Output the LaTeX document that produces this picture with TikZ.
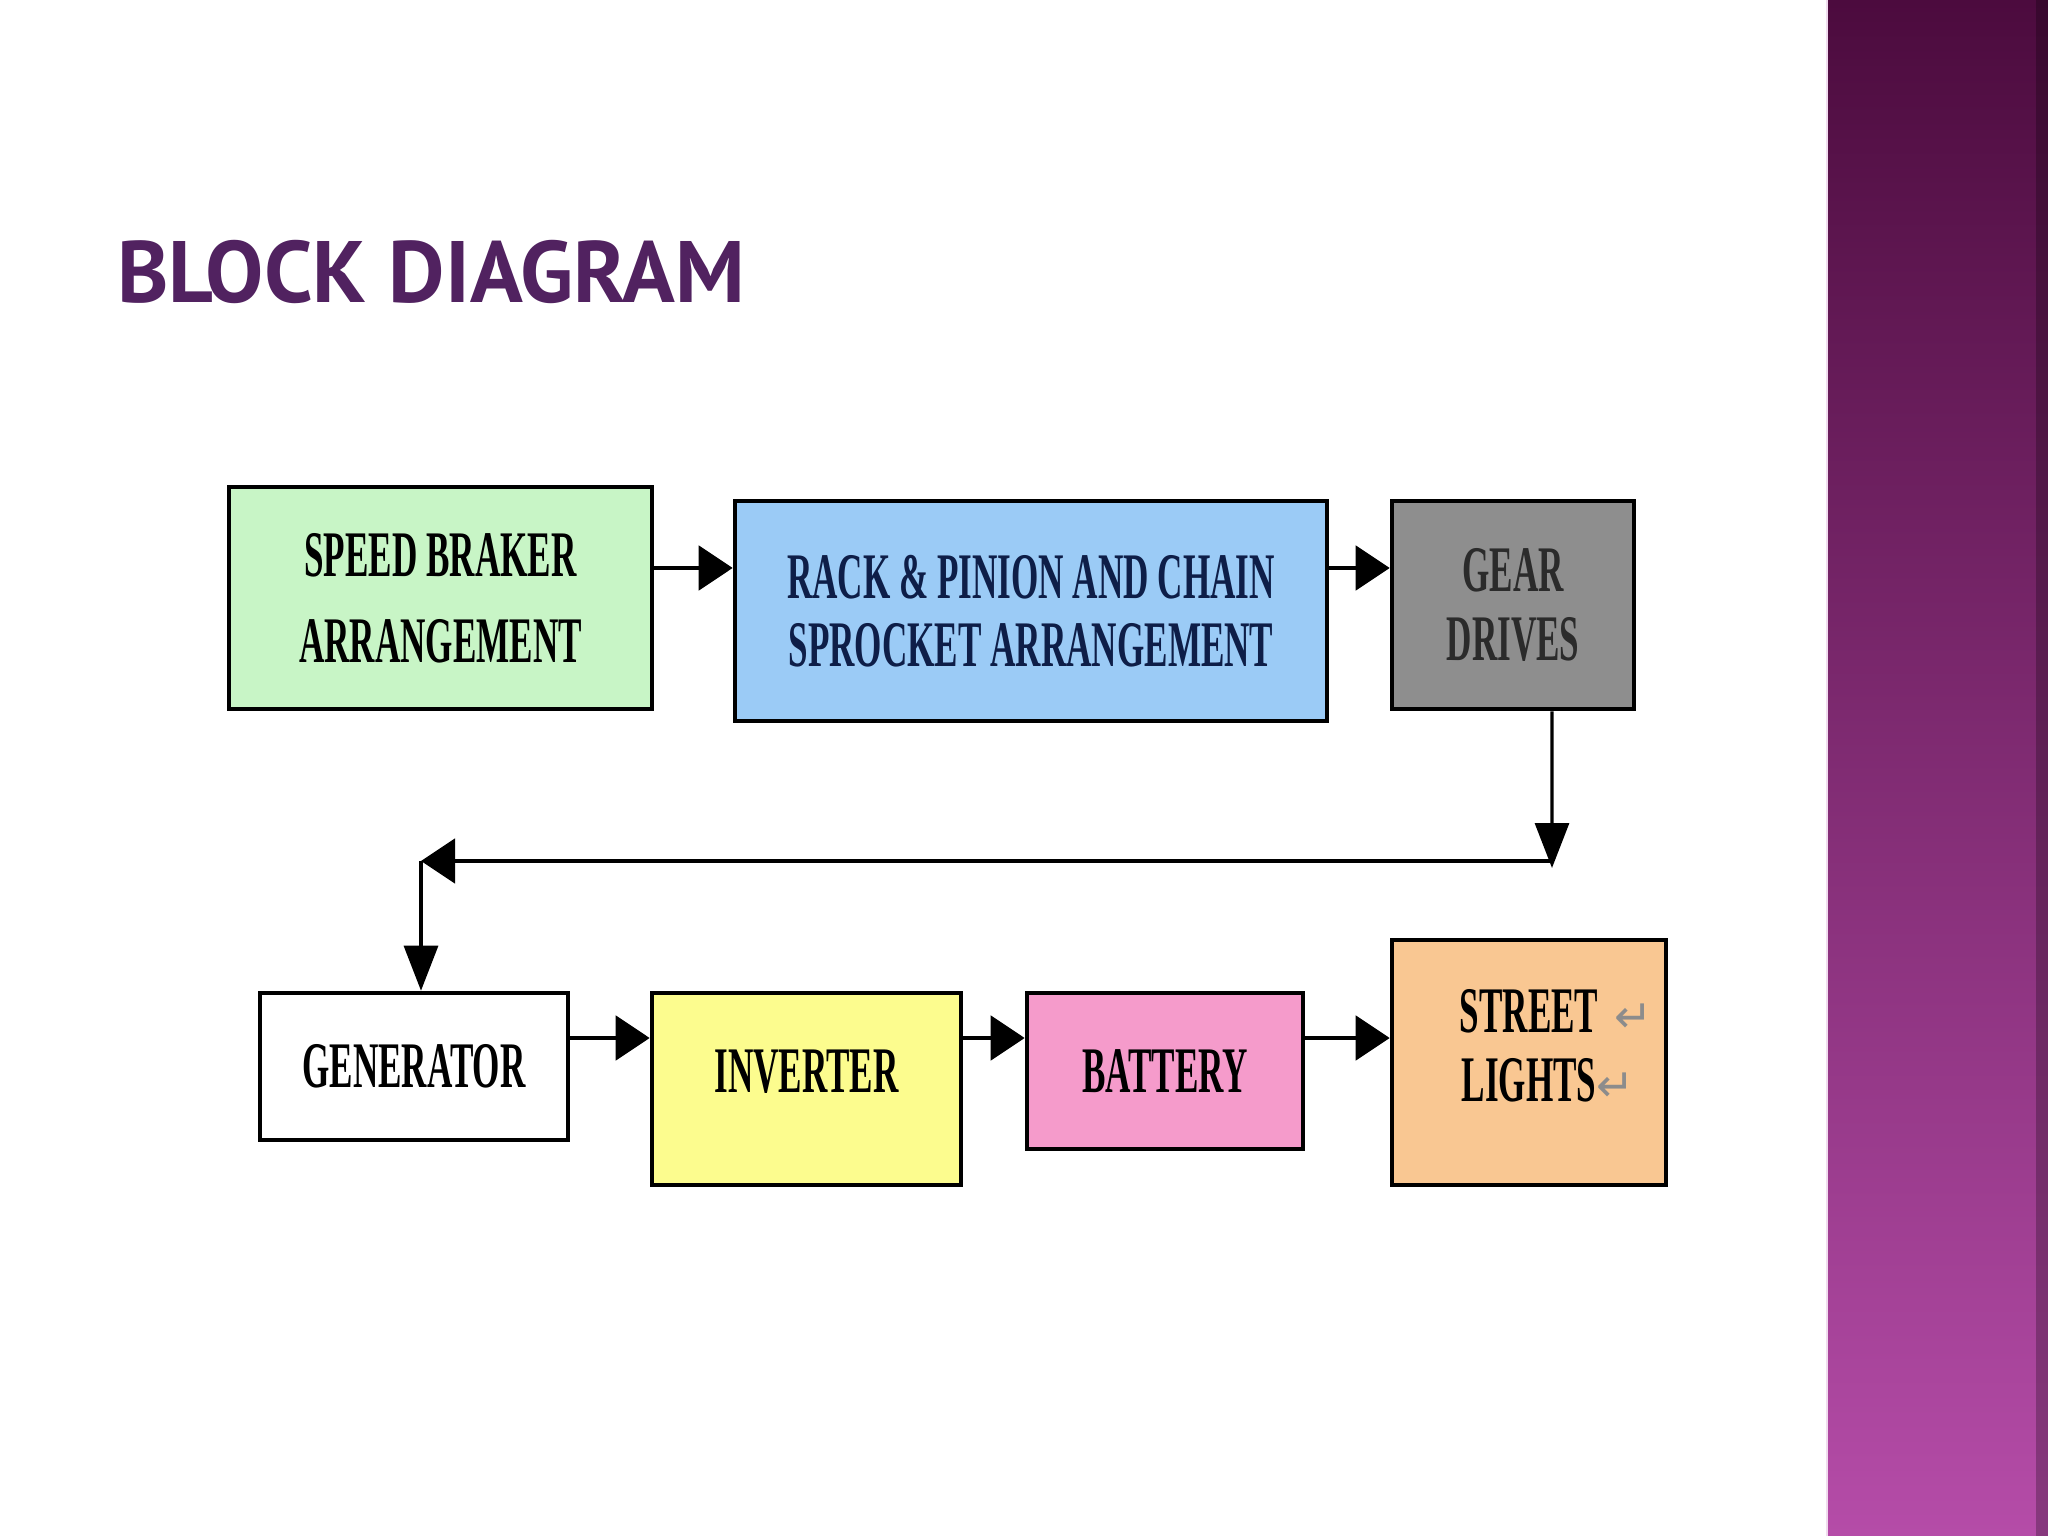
\documentclass[tikz,border=0pt]{standalone}
\usepackage{fontspec}
\setmainfont{Liberation Serif}
\newfontfamily\titlefont{PT Sans}
\newfontfamily\markfont{DejaVu Sans}
\usepackage{graphicx}
\usepackage{tikz}
\usetikzlibrary{arrows.meta, positioning, calc}
\definecolor{titlec}{HTML}{512260}
\definecolor{brkc}{HTML}{C8F5C6}
\definecolor{rackc}{HTML}{9BCBF6}
\definecolor{gearc}{HTML}{8E8E8E}
\definecolor{invc}{HTML}{FCFC8E}
\definecolor{batc}{HTML}{F59BCB}
\definecolor{lightc}{HTML}{F9C792}
\definecolor{rackt}{HTML}{0E1E48}
\definecolor{geart}{HTML}{2B2B2B}
\definecolor{striptop}{HTML}{4C0B3E}
\definecolor{stripbot}{HTML}{B54CA8}
\newcommand{\sq}[1]{\scalebox{0.54}[1]{#1}}
\newcommand{\retmark}{\textcolor{black!45}{\normalfont\markfont\fontsize{13}{13}\selectfont ↵}}
\newcommand{\block}[6]{%
  \node[draw=black, #3, line width=1.3pt, minimum width=#4, minimum height=#5,
        inner sep=0pt, align=center, font=\fontsize{18.5}{19.5}\selectfont\bfseries]
        (#1) at #2 {#6};
}

\begin{document}
\begin{tikzpicture}[line width=1.4pt,
    flow/.style={-{Triangle[length=3.4mm, width=4.4mm]}, line width=1.4pt},
    drop/.style={-{Triangle[length=4.5mm, width=3.4mm]}, line width=0.9pt}]
    \useasboundingbox (0,0) rectangle (20.48,-15.36);
    \fill[white] (0,0) rectangle (20.48,-15.36);
    % side strip
    \shade[top color=striptop, bottom color=stripbot] (18.26,0) rectangle (20.48,-15.36);
    \fill[black, opacity=0.25] (20.36,0) rectangle (20.48,-15.36);
    \draw[white!80!stripbot, line width=0.8pt] (18.27,0) -- (18.27,-15.36);
    \node[anchor=base west, inner sep=0pt, text=titlec,
          font=\titlefont\bfseries\fontsize{24.8}{26}\selectfont] (title) at (1.15,-3.03)
          {BLOCK DIAGRAM};
    % first row
    \block{brk}{(4.405,-5.98)}{fill=brkc}{4.23cm}{2.22cm}{\sq{SPEED BRAKER}\\[5pt]\sq{ARRANGEMENT}}
    \block{rack}{(10.31,-6.11)}{fill=rackc, text=rackt}{5.92cm}{2.20cm}{\sq{RACK \& PINION AND CHAIN}\\\sq{SPROCKET ARRANGEMENT}}
    \block{gear}{(15.13,-6.05)}{fill=gearc, text=geart}{2.42cm}{2.08cm}{\sq{GEAR}\\\sq{DRIVES}}
    % second row
    \block{gen}{(4.14,-10.665)}{fill=white}{3.08cm}{1.47cm}{\sq{GENERATOR}}
    \block{inv}{(8.065,-10.89)}{fill=invc}{3.09cm}{1.92cm}{\sq{INVERTER}\rule[-3.6mm]{0pt}{3.6mm}}
    \block{bat}{(11.65,-10.71)}{fill=batc}{2.76cm}{1.56cm}{\sq{BATTERY}}
    \block{lts}{(15.29,-10.625)}{fill=lightc}{2.74cm}{2.45cm}{\sq{STREET}\rlap{\hspace{1.6mm}\retmark}\\\sq{LIGHTS}\rlap{\retmark}\rule[-3.4mm]{0pt}{3.4mm}}
    \coordinate (turnR) at (15.52,-8.61);
    \coordinate (turnL) at (4.21,-8.61);
    \draw[flow] ([yshift=3mm]brk.east) -- ([yshift=3mm]brk.east -| rack.west);
    \draw[flow] ([yshift=4.3mm]rack.east) -- ([yshift=4.3mm]rack.east -| gear.west);
    \draw[drop] ([xshift=3.9mm]gear.south) -- ([yshift=-0.7mm]turnR);
    \draw[flow] (turnR) -- (turnL);
    \draw[drop] (turnL) -- (turnL |- gen.north);
    \draw[flow] ([yshift=2.85mm]gen.east) -- ([yshift=2.85mm]gen.east -| inv.west);
    \draw[flow] ([yshift=2.85mm]gen.east -| inv.east) -- ([yshift=2.85mm]gen.east -| bat.west);
    \draw[flow] ([yshift=2.85mm]gen.east -| bat.east) -- ([yshift=2.85mm]gen.east -| lts.west);
\end{tikzpicture}
\end{document}
